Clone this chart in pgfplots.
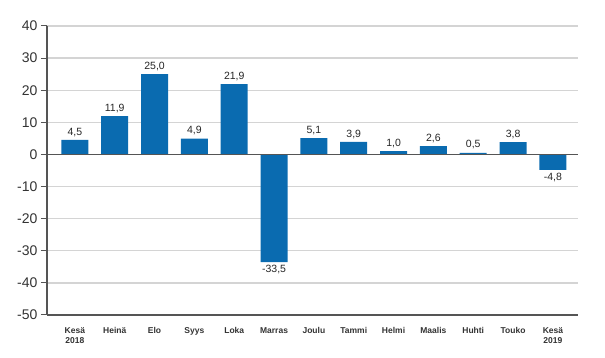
\documentclass[border=0pt]{standalone}
\usepackage{fontspec}
\setmainfont{Liberation Sans}
\usepackage{pgfplots}
\pgfplotsset{compat=1.18}
\definecolor{barblue}{HTML}{0A6BB0}
\definecolor{gridgray}{HTML}{D4D4D4}
\definecolor{axisgray}{HTML}{555555}
\begin{document}
\begin{tikzpicture}
\begin{axis}[
  at={(0pt,0pt)}, anchor=south west,
  scale only axis, width=531pt, height=289pt,
  ymin=-50, ymax=40, ytick={-50,-40,...,40},
  xmin=-0.7, xmax=12.63,
  xtick=data,
  xticklabels={{Kesä\\2018},Heinä,Elo,Syys,Loka,Marras,Joulu,Tammi,Helmi,Maalis,Huhti,Touko,{Kesä\\2019}},
  xticklabel style={align=center, font=\fontsize{8.5}{10}\selectfont\bfseries, text=black!80, yshift=-3pt},
  yticklabel style={font=\fontsize{14}{16}\selectfont, text=black!80},
  /pgf/number format/assume math mode=true,
  axis x line*=bottom, axis y line*=left,
  axis line style={axisgray, line width=1.4pt, -},
  x tick style={draw=none},
  y tick style={axisgray, line width=1pt},
  tick align=outside, major tick length=6pt,
  ymajorgrids, grid style={gridgray, line width=1.3pt},
  ybar, bar width=27pt,
  nodes near coords,
  point meta=y,
  every node near coord/.append style={font=\fontsize{10.5}{12}\selectfont, text=black!85,
    /pgf/number format/.cd, use comma, fixed, fixed zerofill, precision=1, assume math mode=true},
  clip=false,
]
\addplot[fill=barblue, draw=none] coordinates {
(0,4.5) (1,11.9) (2,25.0) (3,4.9) (4,21.9) (5,-33.5) (6,5.1) (7,3.9) (8,1.0) (9,2.6) (10,0.5) (11,3.8) (12,-4.8)};
\draw[axisgray, line width=1.4pt] (axis cs:-0.7,0) -- (axis cs:12.63,0);
\end{axis}
\path[use as bounding box] (-47pt,-43pt) rectangle (558pt,315pt);
\end{tikzpicture}
\end{document}
